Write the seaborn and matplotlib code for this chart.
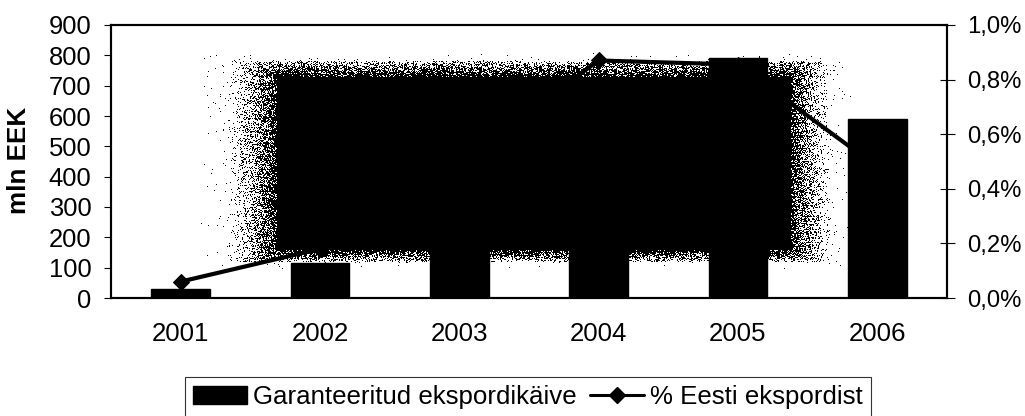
import numpy as np
import pandas as pd
import seaborn as sns
import matplotlib.pyplot as plt
from matplotlib.lines import Line2D
from matplotlib.patches import Patch
from matplotlib.ticker import FuncFormatter

years = ['2001', '2002', '2003', '2004', '2005', '2006']
turnover = [30, 115, 175, 235, 790, 590]
share = [0.06, 0.18, 0.50, 0.87, 0.855, 0.48]
left_ticks = [0, 100, 200, 300, 400, 500, 600, 700, 800, 900]
right_ticks = [0.0, 0.2, 0.4, 0.6, 0.8, 1.0]

sns.set_theme(style='white')
plt.rcParams['font.family'] = ['Liberation Sans', 'DejaVu Sans']

df = pd.DataFrame({'year': years, 'turnover': turnover, 'share': share})

fig = plt.figure(figsize=(10.25, 4.16), dpi=100)
ax = fig.add_axes([111 / 1025, 1 - 298 / 416, 836 / 1025, 273 / 416])

sns.barplot(data=df, x='year', y='turnover', color='black', width=0.42,
            saturation=1, ax=ax, zorder=3, edgecolor='black', linewidth=1)
ax.set_xlim(-0.5, 5.5)
ax.set_ylim(0, 900)
ax.set_yticks(left_ticks)
ax.set_xlabel('')
ax.set_ylabel('mln EEK', fontsize=18.7, fontweight='bold', color='black')
ax.yaxis.set_label_coords(-80 / 836, 0.505)
ax.set_xticks([0.5, 1.5, 2.5, 3.5, 4.5])
ax.set_xticklabels([])
ax.set_xticks([0, 1, 2, 3, 4, 5], minor=True)
ax.set_xticklabels(years, minor=True, fontsize=18.6, color='black')
ax.tick_params(axis='x', which='major', direction='inout', length=10.8, width=0.8, color='black')
ax.tick_params(axis='x', which='minor', length=0, pad=17)
ax.tick_params(axis='y', direction='out', length=5, width=0.8, labelsize=18.4, pad=9, color='black',
               labelcolor='black')

ax2 = ax.twinx()
sns.lineplot(x=list(range(6)), y=share, color='black', lw=3, marker='D', markersize=8,
             markeredgecolor='black', ax=ax2, zorder=5)
ax2.set_ylim(0, 1.0)
ax2.set_yticks(right_ticks)
ax2.yaxis.set_major_formatter(FuncFormatter(lambda v, p: f'{v:.1f}%'.replace('.', ',')))
ax2.tick_params(axis='y', direction='inout', length=10.8, width=0.8, labelsize=17.2, pad=9.4, color='black',
                labelcolor='black')
ax2.grid(False)
ax.grid(False)
for a in (ax, ax2):
    for side in a.spines:
        a.spines[side].set_color('black')
        a.spines[side].set_linewidth(1.5)

# smudge from the scan: solid block with speckled edges, ordered noise, not data
px0, px1, py0, py1 = 195, 865, 40, 285
yy, xx = np.mgrid[py0:py1, px0:px1]
dx = np.maximum((277 - xx) / 52, (xx - 790) / 44)
dy = np.maximum((77 - yy) / 17, (yy - 249) / 13)
cover = np.minimum(np.clip(1 - dx, 0, 1) ** 1.5 * 0.85, np.clip(1 - dy, 0, 1) ** 0.6 * 0.9)
cover = cover + np.clip(1.5 - np.maximum(dx, dy), 0, 0.5) * 0.03
cover[(dx <= 0) & (dy <= 0)] = 1
pattern = (xx * 0.7548777 + yy * 0.5698403 + np.sin(xx * 12.9898 + yy * 78.233) * 43.5453) % 1
img = np.zeros(xx.shape + (4,))
img[..., 3] = pattern < cover
ax.imshow(img, extent=((px0 - 111) / 836, (px1 - 111) / 836, (298 - py1) / 273, (298 - py0) / 273),
          transform=ax.transAxes, aspect='auto', interpolation='nearest', zorder=2)
ax.set_xlim(-0.5, 5.5)
ax.set_ylim(0, 900)

handles = [Patch(facecolor='black', edgecolor='black'),
           Line2D([], [], color='black', lw=2.2, marker='D', markersize=8)]
leg = fig.legend(handles, ['Garanteeritud ekspordikäive', '% Eesti ekspordist'], loc='center',
                 bbox_to_anchor=(528 / 1025, 1 - 397 / 416), ncol=2, fontsize=18.6, frameon=True,
                 fancybox=False, edgecolor='#333333', framealpha=1, borderpad=0.3, borderaxespad=0,
                 handlelength=2.1, handleheight=0.75, handletextpad=0.23, columnspacing=0.5,
                 labelcolor='black')
leg.get_frame().set_linewidth(0.8)

fig.savefig('out.png', dpi=100)
